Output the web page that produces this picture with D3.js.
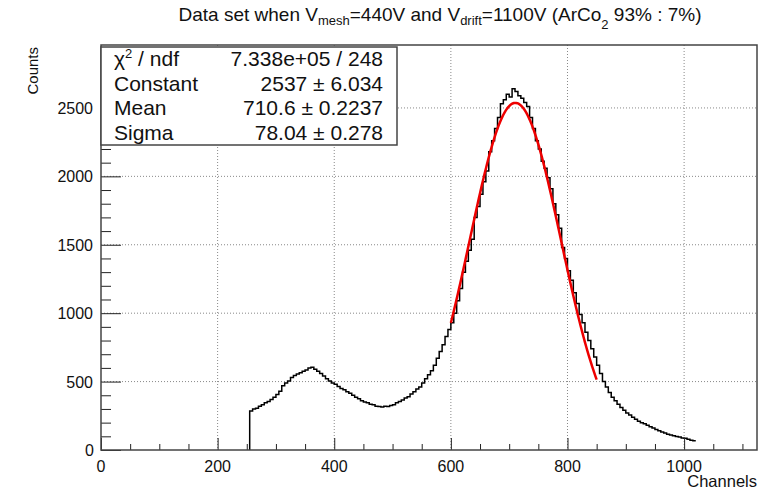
<!DOCTYPE html>
<html>
<head>
<meta charset="utf-8">
<script src="https://d3js.org/d3.v7.min.js"></script>
<style>
  body { margin: 0; background: #fff; }
  svg text { font-family: "Liberation Sans", Arial, Helvetica, sans-serif; fill: #111; }
</style>
</head>
<body>
<div id="chart"></div>
<script>
// histogram, 5-channel bins starting at channel 255
const binStart = 255;
const binWidth = 5;
const counts = [
  285, 300, 305, 320, 330, 345, 355, 370, 385,
  405, 430, 470, 490, 505, 530, 545, 555, 565, 575,
  585, 600, 605, 590, 575, 560, 540, 520, 505, 490,
  480, 465, 450, 440, 425, 415, 400, 385, 375, 360,
  350, 345, 335, 330, 320, 318, 315, 320, 318, 325,
  330, 345, 355, 365, 380, 390, 410, 425, 445, 460,
  490, 520, 550, 580, 620, 670, 720, 770, 830, 880,
  930, 1000, 1090, 1180, 1300, 1380, 1460, 1540, 1700, 1780,
  1870, 1960, 2040, 2180, 2260, 2350, 2430, 2530, 2560, 2600,
  2580, 2640, 2620, 2590, 2570, 2540, 2510, 2430, 2350, 2260,
  2200, 2110, 2060, 1990, 1910, 1800, 1720, 1620, 1480, 1400,
  1310, 1240, 1150, 1070, 990, 930, 860, 800, 740, 680,
  620, 560, 500, 460, 420, 385, 360, 335, 310, 290,
  270, 255, 240, 225, 210, 200, 192, 180, 170, 160,
  150, 140, 132, 125, 115, 110, 105, 98, 95, 88,
  85, 78, 72, 68
];

// gaussian fit shown in the stats box
const fitConstant = 2537;
const fitMean = 710.6;
const fitSigma = 78.04;
const fitRange = [600, 850];

const statNames = ["\u03C7\u00B2 / ndf", "Constant", "Mean", "Sigma"];
const statValues = ["7.338e+05 / 248", "2537 \u00B1 6.034", "710.6 \u00B1 0.2237", "78.04 \u00B1 0.278"];

const xTicks = [0, 200, 400, 600, 800, 1000];
const yTicks = [0, 500, 1000, 1500, 2000, 2500];

const width = 762, height = 492;
const frame = { left: 101, right: 757, top: 45, bottom: 450 };

const svg = d3.select("#chart").append("svg")
  .attr("width", width)
  .attr("height", height);

const x = d3.scaleLinear().domain([0, 1125]).range([frame.left, frame.right]);
const y = d3.scaleLinear().domain([0, 2960]).range([frame.bottom, frame.top]);

// dotted grid
const grid = svg.append("g")
  .attr("stroke", "#888")
  .attr("stroke-width", 1)
  .attr("stroke-dasharray", "1,2");
grid.selectAll("line.gx").data(xTicks.filter(d => d > 0)).enter().append("line")
  .attr("x1", d => x(d)).attr("x2", d => x(d))
  .attr("y1", frame.top).attr("y2", frame.bottom);
grid.selectAll("line.gy").data(yTicks.filter(d => d > 0)).enter().append("line")
  .attr("x1", frame.left).attr("x2", frame.right)
  .attr("y1", d => y(d)).attr("y2", d => y(d));

// histogram as steps
let pts = [[binStart, 0]];
counts.forEach((c, i) => pts.push([binStart + i * binWidth, c]));
pts.push([binStart + counts.length * binWidth, counts[counts.length - 1]]);

const step = d3.line()
  .x(d => x(d[0]))
  .y(d => y(d[1]))
  .curve(d3.curveStepAfter);

svg.append("path")
  .datum(pts)
  .attr("d", step)
  .attr("fill", "none")
  .attr("stroke", "#000")
  .attr("stroke-width", 1.5);

// fit curve
const fitPts = d3.range(fitRange[0], fitRange[1] + 1, 2).map(v =>
  [v, fitConstant * Math.exp(-0.5 * Math.pow((v - fitMean) / fitSigma, 2))]);

svg.append("path")
  .datum(fitPts)
  .attr("d", d3.line().x(d => x(d[0])).y(d => y(d[1])))
  .attr("fill", "none")
  .attr("stroke", "#ee0000")
  .attr("stroke-width", 2.5);

// axes: ticks drawn inwards like ROOT
const xAxis = d3.axisBottom(x)
  .tickValues(d3.range(0, 1101, 50))
  .tickSize(0)
  .tickFormat("");
const gx = svg.append("g").attr("transform", `translate(0,${frame.bottom})`).call(xAxis);
gx.select(".domain").remove();
gx.selectAll(".tick line")
  .attr("y2", d => d % 200 === 0 ? -12 : -6)
  .attr("stroke", "#222");

const yAxis = d3.axisLeft(y)
  .tickValues(d3.range(0, 2901, 100))
  .tickSize(0)
  .tickFormat("");
const gy = svg.append("g").attr("transform", `translate(${frame.left},0)`).call(yAxis);
gy.select(".domain").remove();
gy.selectAll(".tick line")
  .attr("x2", d => d % 500 === 0 ? 20 : 10)
  .attr("stroke", "#222");

// frame
svg.append("rect")
  .attr("x", frame.left).attr("y", frame.top)
  .attr("width", frame.right - frame.left)
  .attr("height", frame.bottom - frame.top)
  .attr("fill", "none")
  .attr("stroke", "#444")
  .attr("stroke-width", 1.5);

// tick labels
svg.append("g").selectAll("text").data(xTicks).enter().append("text")
  .attr("x", d => x(d))
  .attr("y", 472)
  .attr("text-anchor", "middle")
  .attr("font-size", 16)
  .text(d => d);

svg.append("g").selectAll("text").data(yTicks).enter().append("text")
  .attr("x", d => d === 0 ? 94 : 93)
  .attr("y", d => y(d) + 6)
  .attr("text-anchor", "end")
  .attr("font-size", 16)
  .text(d => d);

// axis titles
svg.append("text")
  .attr("x", 757).attr("y", 487)
  .attr("text-anchor", "end")
  .attr("font-size", 16.5)
  .text("Channels");

svg.append("text")
  .attr("transform", "translate(38,47) rotate(-90)")
  .attr("text-anchor", "end")
  .attr("font-size", 15)
  .text("Counts");

// title
const title = svg.append("text")
  .attr("x", 440).attr("y", 21)
  .attr("text-anchor", "middle")
  .attr("font-size", 19);
title.append("tspan").text("Data set when V");
title.append("tspan").attr("font-size", 13).attr("dy", 4).text("mesh");
title.append("tspan").attr("dy", -4).text("=440V and V");
title.append("tspan").attr("font-size", 13).attr("dy", 4).text("drift");
title.append("tspan").attr("dy", -4).text("=1100V (ArCo");
title.append("tspan").attr("font-size", 13).attr("dy", 8).text("2");
title.append("tspan").attr("dy", -8).text(" 93% : 7%)");

// stats box
const box = { x0: 101, y0: 47, x1: 397, y1: 145 };
svg.append("rect")
  .attr("x", box.x0).attr("y", box.y0)
  .attr("width", box.x1 - box.x0).attr("height", box.y1 - box.y0)
  .attr("fill", "#fff")
  .attr("stroke", "#444")
  .attr("stroke-width", 1.5);

const rowH = (box.y1 - box.y0) / statNames.length;
const stats = svg.append("g").attr("font-size", 21);
statNames.forEach((name, i) => {
  const by = box.y0 + rowH * (i + 0.5) + 7;
  const t = stats.append("text").attr("x", 114).attr("y", by);
  if (i === 0) {
    t.append("tspan").text("\u03C7");
    t.append("tspan").attr("font-size", 13).attr("dy", -8).text("2");
    t.append("tspan").attr("dy", 8).text(" / ndf");
  } else {
    t.text(name);
  }
  stats.append("text")
    .attr("x", 383).attr("y", by)
    .attr("text-anchor", "end")
    .text(statValues[i]);
});
</script>
</body>
</html>
